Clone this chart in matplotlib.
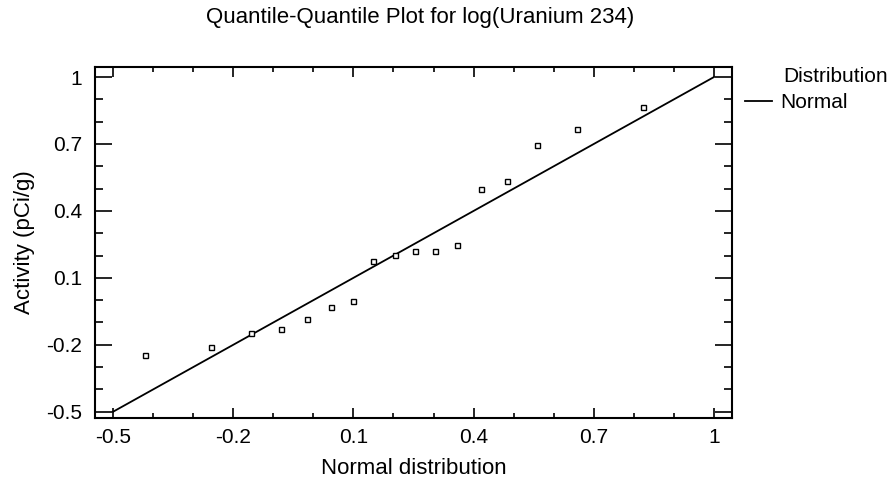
import matplotlib
matplotlib.use("Agg")
import matplotlib.pyplot as plt
from matplotlib.ticker import MultipleLocator, FixedLocator
import numpy as np

plt.rcParams['font.family'] = ['Liberation Sans', 'DejaVu Sans']

# Data
normal_quantiles = [-0.420, -0.255, -0.156, -0.081, -0.016, 0.044, 0.099, 0.149,
                    0.204, 0.254, 0.304, 0.359, 0.418, 0.483, 0.558, 0.658, 0.823]
activity = [-0.247, -0.211, -0.147, -0.129, -0.085, -0.031, -0.005, 0.175,
            0.202, 0.220, 0.220, 0.247, 0.498, 0.534, 0.695, 0.767, 0.866]
ref_line_x = [-0.5, 1.0]
ref_line_y = [-0.5, 1.0]
x_ticks = [-0.5, -0.2, 0.1, 0.4, 0.7, 1.0]
x_tick_labels = ["-0.5", "-0.2", "0.1", "0.4", "0.7", "1"]
y_ticks = [-0.5, -0.2, 0.1, 0.4, 0.7, 1.0]
y_tick_labels = ["-0.5", "-0.2", "0.1", "0.4", "0.7", "1"]

fig = plt.figure(figsize=(8.95, 4.91), dpi=100)
ax = fig.add_axes([95/895, 1-418/491, (732-95)/895, (418-67)/491])

ax.plot(ref_line_x, ref_line_y, color='black', lw=1.3, label='Normal')
ax.plot(normal_quantiles, activity, linestyle='none', marker='s', markersize=3.6,
        markerfacecolor='white', markeredgecolor='black', markeredgewidth=1.0)

ax.set_xlim(-0.545, 1.045)
ax.set_ylim(-0.528, 1.045)

ax.xaxis.set_major_locator(FixedLocator(x_ticks))
ax.yaxis.set_major_locator(FixedLocator(y_ticks))
ax.set_xticklabels(x_tick_labels)
ax.set_yticklabels(y_tick_labels)
ax.xaxis.set_minor_locator(MultipleLocator(0.1))
ax.yaxis.set_minor_locator(MultipleLocator(0.1))

ax.tick_params(axis='x', which='major', direction='in', length=7, width=1.2,
               top=True, bottom=True, labelsize=15, pad=7)
ax.tick_params(axis='x', which='minor', direction='in', length=3.5, width=1.2,
               top=True, bottom=True)
ax.tick_params(axis='y', which='major', direction='in', length=12, width=1.2,
               left=True, right=True, labelsize=15, pad=9)
ax.tick_params(axis='y', which='minor', direction='in', length=6, width=1.2,
               left=True, right=True)
for s in ax.spines.values():
    s.set_linewidth(1.5)

ax.set_xlabel('Normal distribution', fontsize=16, labelpad=8)
ax.set_ylabel('Activity (pCi/g)', fontsize=16, labelpad=8)
fig.suptitle('Quantile-Quantile Plot for log(Uranium 234)', fontsize=16, y=0.985, x=0.469)

fig.text(888/895, 1-76/491, 'Distribution', fontsize=15, ha='right', va='center')
leg = ax.legend(loc='center left', bbox_to_anchor=(745/895, 1-103/491),
                bbox_transform=fig.transFigure, frameon=False,
                fontsize=15, handlelength=1.3, handletextpad=0.4,
                borderaxespad=0.0, borderpad=0.0)

fig.savefig('out.png', dpi=100)
